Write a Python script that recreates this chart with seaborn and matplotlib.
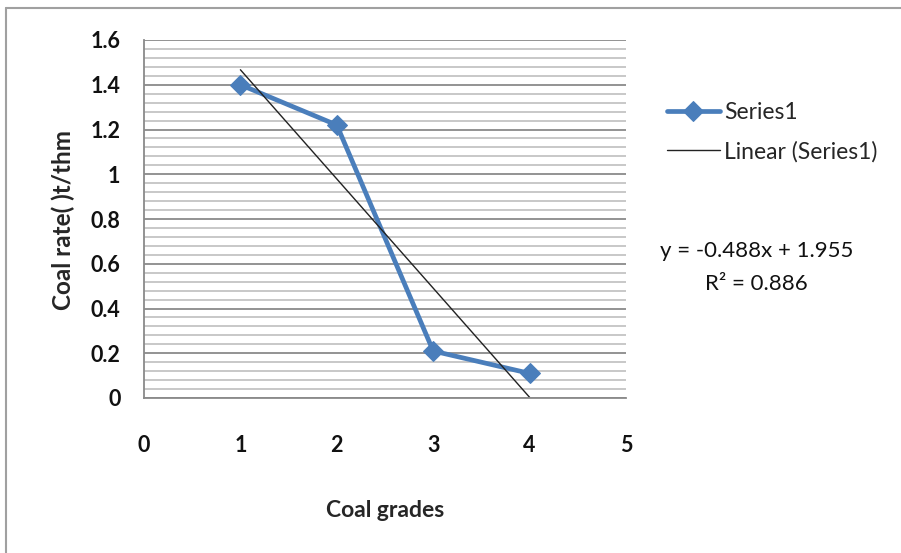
import numpy as np
import pandas as pd
import seaborn as sns
from matplotlib import pyplot as plt
from matplotlib.ticker import MultipleLocator
from matplotlib.lines import Line2D

# data
grades = [1, 2, 3, 4]
coal_rate = [1.40, 1.22, 0.21, 0.11]
x_ticks = [0, 1, 2, 3, 4, 5]
y_ticks = [0, 0.2, 0.4, 0.6, 0.8, 1, 1.2, 1.4, 1.6]
y_tick_labels = ['0', '0.2', '0.4', '0.6', '0.8', '1', '1.2', '1.4', '1.6']

df = pd.DataFrame({'grade': grades, 'rate': coal_rate})

sns.set_theme(style="white")
plt.rcParams['font.family'] = ['Lato', 'DejaVu Sans']

fig = plt.figure(figsize=(9.01, 5.53), dpi=100)
ax = fig.add_axes([144 / 901, 1 - 398 / 553, (626 - 144) / 901, (398 - 40) / 553])

blue = '#4a7ebb'
sns.lineplot(data=df, x='grade', y='rate', ax=ax, color=blue, lw=3.4,
             marker='D', markersize=10, markeredgecolor=blue, label='Series1')
sns.regplot(data=df, x='grade', y='rate', ax=ax, scatter=False, ci=None,
            truncate=True, line_kws={'color': '#222222', 'lw': 1.0},
            label='Linear (Series1)')

# least squares fit for the equation label
slope, intercept = np.polyfit(grades, coal_rate, 1)
pred = np.polyval([slope, intercept], grades)
r2 = 1 - np.sum((np.array(coal_rate) - pred) ** 2) / np.sum((np.array(coal_rate) - np.mean(coal_rate)) ** 2)

ax.set_xlim(0, 5)
ax.set_ylim(0, 1.6)
ax.set_xticks(x_ticks)
ax.set_yticks(y_ticks)
ax.set_yticklabels(y_tick_labels)
ax.yaxis.set_minor_locator(MultipleLocator(0.04))

ax.grid(True, axis='y', which='major', color='#8a8a8a', lw=1.3)
ax.grid(True, axis='y', which='minor', color='#c4c4c4', lw=1.3)
ax.grid(False, axis='x')
ax.set_axisbelow(True)

for s in ['top', 'right']:
    ax.spines[s].set_visible(False)
for s in ['left', 'bottom']:
    ax.spines[s].set_color('#8a8a8a')
    ax.spines[s].set_linewidth(1.3)

ax.tick_params(axis='x', which='major', direction='out', length=6, width=1.2,
               color='#8a8a8a', pad=21, labelsize=15.5)
ax.tick_params(axis='y', which='major', direction='out', length=5, width=1.2,
               color='#8a8a8a', pad=12, labelsize=15.5)
ax.tick_params(axis='y', which='minor', length=0)
for lbl in ax.get_xticklabels() + ax.get_yticklabels():
    lbl.set_fontweight('bold')
    lbl.set_color('#111111')

ax.set_xlabel('Coal grades', fontsize=16.5, fontweight='bold', labelpad=31)
ax.set_ylabel('Coal rate( )t/thm', fontsize=17.5, fontweight='bold')
ax.yaxis.set_label_coords(-0.142, 0.497)

ax.legend(loc='upper left', bbox_to_anchor=(667 / 901, 1 - 102 / 553),
          bbox_transform=fig.transFigure, frameon=False, fontsize=16.5,
          handlelength=2.3, handletextpad=0.2, labelspacing=0.78,
          borderpad=0, borderaxespad=0)

fig.text(757 / 901, 1 - 251 / 553, f'y = {slope:.3f}x + {intercept:.3f}',
         ha='center', va='center', fontsize=16, color='#111111')
fig.text(756 / 901, 1 - 284 / 553, f'R\u00b2 = {r2:.3f}',
         ha='center', va='center', fontsize=16, color='#111111')

# chart frame edges visible in the crop
fig.add_artist(Line2D([6 / 901, 6 / 901], [0, 1 - 8 / 553], color='#a0a0a0', lw=1.5,
                      transform=fig.transFigure))
fig.add_artist(Line2D([6 / 901, 1], [1 - 8 / 553, 1 - 8 / 553], color='#a0a0a0', lw=1.5,
                      transform=fig.transFigure))

fig.savefig('out.png', dpi=100)
